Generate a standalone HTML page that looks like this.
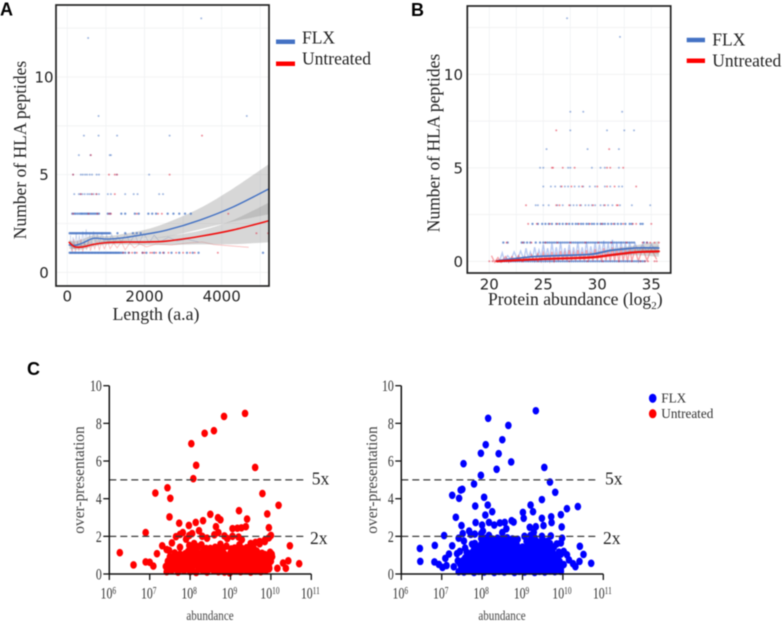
<!DOCTYPE html>
<html lang="en">
<head>
<meta charset="utf-8">
<title>HLA peptides figure</title>
<style>
html,body{margin:0;padding:0;background:#fff;width:784px;height:623px;overflow:hidden}
svg{display:block;filter:blur(.45px)}
.serif{font-family:"Liberation Serif",serif}
.sans{font-family:"DejaVu Sans","Liberation Sans",sans-serif}
.bold{font-family:"Liberation Sans",sans-serif;font-weight:700}
</style>
</head>
<body>
<svg id="figure" width="784" height="623" viewBox="0 0 784 623" xmlns="http://www.w3.org/2000/svg">
<defs>
<clipPath id="clipA"><rect x="56" y="5" width="213" height="281"/></clipPath>
<clipPath id="clipB"><rect x="467" y="6" width="204" height="267"/></clipPath>
</defs>

<text class="bold" x="0" y="15.5" font-size="18" fill="#000">A</text>
<text class="bold" x="411" y="16" font-size="18" fill="#000">B</text>
<text class="bold" x="27" y="375" font-size="18" fill="#000">C</text>

<g id="panelA">
<g id="gridA"></g>
<g id="plotA" clip-path="url(#clipA)"></g>
<rect x="56" y="5" width="213" height="281" fill="none" stroke="#222" stroke-width="1.7"/>
<g id="ticksA"></g>
<text class="serif" x="26" y="150" transform="rotate(-90 26 150)" text-anchor="middle" font-size="17.5" fill="#222">Number of HLA peptides</text>
<text class="serif" x="156" y="320" text-anchor="middle" font-size="17.8" fill="#222">Length (a.a)</text>
<g>
<line x1="276" x2="295" y1="41.7" y2="41.7" stroke="#4472c4" stroke-width="4.5"/>
<text class="serif" x="302" y="43.5" font-size="17.5" fill="#222">FLX</text>
<line x1="276" x2="295" y1="63.7" y2="63.7" stroke="#f00" stroke-width="4.5"/>
<text class="serif" x="302" y="64.7" font-size="17.5" fill="#222">Untreated</text>
</g>
</g>

<g id="panelB">
<g id="gridB"></g>
<g id="plotB" clip-path="url(#clipB)"></g>
<rect x="467.3" y="6" width="203.4" height="267" fill="none" stroke="#222" stroke-width="1.7"/>
<g id="ticksB"></g>
<text class="serif" x="439.3" y="143" transform="rotate(-90 439.3 143)" text-anchor="middle" font-size="17.5" fill="#222">Number of HLA peptides</text>
<text class="serif" x="488" y="305" font-size="17.6" fill="#222">Protein abundance (log<tspan dy="4" font-size="11">2</tspan><tspan dy="-4">)</tspan></text>
<g>
<line x1="686.7" x2="705" y1="40" y2="40" stroke="#4472c4" stroke-width="4.5"/>
<text class="serif" x="712.3" y="45.7" font-size="17.5" fill="#222">FLX</text>
<line x1="686.7" x2="705" y1="60.7" y2="60.7" stroke="#f00" stroke-width="4.5"/>
<text class="serif" x="712.3" y="66.7" font-size="17.5" fill="#222">Untreated</text>
</g>
</g>

<g id="panelC1"></g>
<g id="panelC2"></g>

<g>
<ellipse cx="652.7" cy="398.3" rx="3.8" ry="4.6" fill="#0000ff"/>
<text class="serif" x="661.3" y="402.7" font-size="13.2" fill="#333">FLX</text>
<ellipse cx="652.7" cy="413.7" rx="3.8" ry="4.6" fill="#ff0000"/>
<text class="serif" x="661.3" y="418" font-size="13.2" fill="#333">Untreated</text>
</g>
</svg>

<script>
/* ---------- Panel A data ---------- */
const aXTicks = [0, 2000, 4000];
const aYTicks = [0, 5, 10];
const aXGrid = [0, 1000, 2000, 3000, 4000, 5000];
const aYGrid = [0, 2.5, 5, 7.5, 10, 12.5];
const aCurveX = [50, 200, 400, 680, 1030, 1500, 2000, 2580, 3430, 4300, 5300];
const aFlxLine = [1.4, 1.38, 1.5, 1.74, 1.7, 1.78, 1.94, 2.16, 2.67, 3.35, 4.35];
const aFlxHigh = [1.6, 1.6, 1.7, 1.9, 1.85, 1.98, 2.17, 2.54, 3.28, 4.3, 5.65];
const aFlxLow = [1.2, 1.2, 1.3, 1.55, 1.55, 1.62, 1.72, 1.82, 2.2, 2.6, 3.0];
const aRedLine = [1.53, 1.3, 1.3, 1.43, 1.52, 1.55, 1.55, 1.6, 1.84, 2.17, 2.68];
const aRedHigh = [1.68, 1.42, 1.42, 1.53, 1.62, 1.66, 1.7, 1.85, 2.13, 2.68, 3.65];
const aRedLow = [1.38, 1.18, 1.18, 1.33, 1.42, 1.42, 1.4, 1.4, 1.43, 1.44, 1.55];
const aFlxCounts = [1, 2, 3, 4, 5, 6, 7, 8, 12, 13];
const aFlxLengths = [
 [60,85,110,135,165,190,215,240,270,295,320,350,375,400,425,455,480,505,535,560,585,615,640,665,695,720,745,775,800,825,855,880,905,935,960,985,1015,1040,1065,1095,1120,1145,1175,1200,1230,1255,1280,1310,1335,1365,1400,1440,1500,1590,1750,1950,2050,2250,2400,2500,2700,2900,3100,3250,3400,5070],
 [60,90,120,150,180,210,240,270,300,330,360,390,420,450,480,510,540,570,600,630,660,690,720,750,780,810,840,870,900,930,960,990,1020,1050,1080,1110,1300,1500,1700,1800,1900],
 [130,180,220,270,320,360,390,430,470,510,540,580,620,660,700,740,780,820,1050,1110,1400,1500,1750,1850,2100,2200,2300,2600,2750,2900,3050,3200],
 [180,300,340,390,450,520,570,620,680,760,820,1050,1130,1500,1720,1820,2380,2480],
 [150,350,400,460,510,580,640,760,820,1280,2120],
 [300,600,1100,1130],
 [430,810,1290,2650],
 [810,4650],
 [540],
 [3470]
];
const aRedCounts = [1, 2, 3, 4, 5, 6, 7];
const aRedLengths = [
 [1450,1600,1680,1800,1950,2000,2150,2200,2300,2480,2620,2820,3000,3180,3300,3900],
 [4900,5200],
 [150,550,780,1080,1130,1800,2350,2450,4170],
 [350,640,750,1230],
 [150,1080,1230,1290,2650],
 [610],
 [3490]
];
const aRawFlx = [[80,1.9],[110,1.1],[150,1.8],[190,1.2],[230,2.0],[270,1.3],[310,1.9],[350,1.25],[400,2.1],[440,1.35],[490,2.2],[530,1.4],[580,2.0],[620,1.4],[680,2.1],[720,1.5],[780,1.95],[830,1.45],[900,2.05],[950,1.5],[1020,1.9],[1080,1.5],[1150,1.95],[1220,1.5],[1300,1.85],[1400,1.55],[1520,2.0],[1620,1.5],[1750,1.95],[1850,1.45],[1980,2.0],[2120,1.5],[2250,1.9],[2400,1.55],[2620,1.8],[2850,1.6],[3100,1.7],[3400,1.55]];
const aRawRed = [[90,1.6],[130,1.0],[170,1.7],[210,1.05],[260,1.6],[300,1.1],[350,1.7],[400,1.05],[450,1.55],[500,1.15],[560,1.65],[600,1.1],[660,1.5],[710,1.2],[770,1.6],[830,1.15],[890,1.55],[960,1.2],[1040,1.6],[1110,1.2],[1200,1.5],[1290,1.25],[1400,1.55],[1500,1.15],[1620,1.5],[1740,1.25],[1880,1.45],[2050,1.3],[2300,1.45],[2700,1.4],[3100,1.5],[3500,1.55],[3800,1.42],[4250,1.35],[4700,1.28]];

/* ---------- Panel B data ---------- */
const bXTicks = [20, 25, 30, 35];
const bYTicks = [0, 5, 10];
const bXGrid = [20, 22.5, 25, 27.5, 30, 32.5, 35];
const bYGrid = [0, 2.5, 5, 7.5, 10, 12.5];
const bCurveX = [20.7, 24.1, 27.2, 29.5, 31.2, 32.5, 33.4, 34.5, 35.7];
const bFlxLine = [0.03, 0.25, 0.32, 0.38, 0.58, 0.66, 0.71, 0.72, 0.71];
const bFlxHigh = [0.08, 0.3, 0.37, 0.44, 0.66, 0.76, 0.84, 0.95, 1.08];
const bFlxLow = [-0.02, 0.2, 0.27, 0.32, 0.5, 0.56, 0.58, 0.5, 0.36];
const bRedLine = [0, 0.1, 0.16, 0.21, 0.33, 0.42, 0.48, 0.51, 0.53];
const bRedHigh = [0.05, 0.15, 0.21, 0.27, 0.4, 0.52, 0.62, 0.72, 0.85];
const bRedLow = [-0.05, 0.05, 0.11, 0.15, 0.26, 0.32, 0.33, 0.3, 0.24];
const bFlxCounts = [0, 1, 2, 3, 4, 5, 6, 7, 8, 12, 13];
const bFlxAbundance = [
 [20.8,21,21.2,21.4,21.6,21.8,22,22.2,22.4,22.6,22.8,23,23.2,23.4,23.6,23.8,24,24.2,24.4,24.6,24.8,25,25.2,25.4,25.6,25.8,26,26.2,26.4,26.6,26.8,27,27.2,27.4,27.6,27.8,28,28.2,28.4,28.6,28.8,29,29.2,29.4,29.6,29.8,30,30.2,30.4,30.6,30.8,31,31.2,31.4,31.6,31.8,32,32.2,32.4,32.6,32.8,33,33.2,33.4,33.6,33.8,34,34.2,34.4],
 [21.3,21.7,23,23.2,23.5,23.8,24.3,24.7,25,25.2,25.4,25.6,25.8,26,26.2,26.4,26.6,26.8,27,27.2,27.4,27.6,27.8,28,28.2,28.4,28.6,28.8,29,29.2,29.4,29.6,29.8,30,30.2,30.4,30.6,30.8,31,31.2,31.4,31.6,31.8,32,32.2,32.4,32.6,32.8,33,33.2,33.4,34.3,34.6],
 [24,24.5,24.9,25.2,25.5,25.8,26.2,26.5,26.8,27.1,27.4,27.7,28,28.2,28.5,28.7,29,29.2,29.5,29.7,30,30.3,30.5,30.7,31,31.3,31.6,31.9,32.2,32.6,33,33.2,34,34.2],
 [24.3,24.5,25,25.5,26.3,26.8,27.5,27.8,28.1,28.5,28.9,29.2,29.5,29.8,30.3,30.6,31,31.4,32.1,33.2,34.9],
 [25,25.7,26.1,26.6,27,27.3,27.9,28.3,28.7,29.3,29.8,30.7,31.2,32,32.3],
 [24.7,25,27.3,27.5,29.5,30.3,30.7,32],
 [25.3,29.1,32],
 [27.5,30.9,32.5,33.4],
 [27.5,28.7,32.3],
 [32.1],
 [27.2]
];
const bRedCounts = [0, 1, 2, 3, 4, 5, 6, 7];
const bRedAbundance = [
 [20,20.3,20.6,21.1,22,23.1,24.5,26,27.4,29.1,30.5,32,33.2,34,34.4,34.7,35.3,35.5],
 [21.6,23.1,23.9,25.2,26.3,27.5,28.9,30.1,31.3,32.7,34.2,34.6,34.9,35.3,35.7],
 [23.6,24.4,25.6,26.3,27.2,28.3,29.3,30.4,31.5,32.4,33.3,33.6,35],
 [23.4,26.2,26.5,27.4,28.4,29.6,30.7,31.8,31.9],
 [26.7,27.6,28.6,30,30.9,31.6,33.6],
 [25.8,25.9,26.8,27.9,30.9,31.2,32.4],
 [31.1],
 [26.2]
];
const bRawFlx = [[21,.1],[21.2,.45],[21.4,.05],[21.7,.3],[22,.1],[22.3,.5],[22.6,.1],[22.9,.55],[23.2,.1],[23.4,.7],[23.6,.15],[23.8,.5],[24,.15],[24.2,.75],[24.4,.2],[24.6,.6],[24.8,.2],[25,.9],[25.2,.2],[25.4,.7],[25.6,.15],[25.8,.95],[26,.2],[26.2,.75],[26.4,.2],[26.6,1],[26.8,.2],[27,.7],[27.2,.2],[27.4,.9],[27.6,.15],[27.8,.75],[28,.25],[28.2,1],[28.4,.2],[28.6,.75],[28.8,.2],[29,1.05],[29.2,.2],[29.4,.8],[29.6,.25],[29.8,1],[30,.2],[30.2,.9],[30.4,.3],[30.6,1.1],[30.8,.25],[31,.95],[31.2,.35],[31.4,1.15],[31.6,.3],[31.8,1],[32,.35],[32.2,1.05],[32.4,.4],[32.6,.95],[32.8,.4],[33,1],[33.2,.45],[33.5,.95],[33.8,.5],[34.2,.9],[34.6,.5],[35,.9],[35.5,.5]];
const bRawRed = [[20.2,.3],[20.5,-.05],[20.8,.2],[21.1,-.05],[21.5,.25],[21.8,-.05],[22.1,.25],[22.4,0],[22.7,.3],[23,0],[23.3,.25],[23.6,0],[23.9,.35],[24.2,0],[24.5,.4],[24.8,0],[25,.45],[25.2,.02],[25.4,.35],[25.6,0],[25.8,.5],[26,.02],[26.2,.4],[26.4,0],[26.6,.55],[26.8,.02],[27,.45],[27.2,0],[27.4,.6],[27.6,.02],[27.8,.45],[28,0],[28.2,.6],[28.4,.02],[28.6,.5],[28.8,0],[29,.6],[29.2,.02],[29.4,.5],[29.6,0],[29.8,.65],[30,.02],[30.2,.55],[30.4,-.03],[30.6,.7],[30.8,.02],[31,.6],[31.2,-.03],[31.4,.75],[31.6,0],[31.8,.65],[32,-.05],[32.2,.75],[32.4,0],[32.6,.65],[32.8,-.05],[33,.7],[33.2,.02],[33.5,.65],[33.8,0],[34.2,.7],[34.6,.05],[35,.65],[35.5,.1]];

/* ---------- Panel C data: [log10 abundance, over-presentation] ---------- */
const cXExponents = [6, 7, 8, 9, 10, 11];
const cYTicks = [0, 2, 4, 6, 8, 10];
const cThresholds = [5, 2];
const cThresholdLabels = ['5x', '2x'];
const untreatedPoints = [
 [6.26,1.13],[6.6,.48],[6.9,.64],[6.9,2.2],[7,.62],[7.09,.42],[7.14,4.3],[7.18,1.08],[7.31,1.5],[7.44,4.58],[7.51,4.02],[7.49,3.03],[7.73,2.7],[7.97,2.58],[8.03,6.92],[8.08,5.06],[8.15,5.77],[8.14,2.74],[8.32,2.83],[8.36,7.47],[8.59,7.61],[8.84,8.37],[9.36,8.53],[9.61,5.66],[9.79,4.27],[10.19,3.65],[9.91,3.19],[9.95,2.46],[9.21,3.36],[9.41,2.92],[8.5,3.17],[8.69,2.99],[8.75,2.88],[8.64,2.51],[9.38,2.51],[9.05,2.41],[9.17,2.43],[9.27,2.45],[10.47,1.5],[10.7,.55],[10.43,.7],[10.3,.58],[10.37,.3],[10.16,.3],[9.96,.3],
 [7.42,.12],[7.55,.2],[7.7,.1],[7.85,.18],[8,.12],[8.15,.08],[8.3,.2],[8.42,.1],[8.58,.18],[8.7,.12],[8.85,.1],[8.98,.06],[9.12,.18],[9.25,.12],[9.38,.2],[9.5,.1],[9.62,.16],[9.75,.12],[9.88,.2],
 [7.4,.4],[7.52,.45],[7.65,.35],[7.8,.42],[7.92,.38],[8.05,.46],[8.2,.36],[8.35,.42],[8.48,.4],[8.62,.46],[8.75,.38],[8.9,.44],[9.02,.36],[9.15,.42],[9.3,.46],[9.42,.38],[9.55,.44],[9.7,.4],[9.82,.36],[9.95,.44],
 [7.45,.68],[7.6,.62],[7.72,.7],[7.88,.66],[8,.72],[8.12,.64],[8.25,.7],[8.4,.62],[8.55,.68],[8.68,.72],[8.82,.64],[8.95,.7],[9.08,.66],[9.2,.72],[9.35,.62],[9.48,.7],[9.6,.66],[9.72,.72],[9.85,.62],[10,.68],
 [7.5,.92],[7.68,.9],[7.82,.96],[7.95,.88],[8.1,.94],[8.22,.9],[8.38,.98],[8.5,.88],[8.65,.94],[8.8,.9],[8.92,.86],[9.05,.96],[9.18,.92],[9.3,.98],[9.45,.88],[9.58,.94],[9.7,.9],[9.82,.96],[9.95,.88],[10.03,.92],
 [7.48,1.25],[7.42,1.3],[7.62,1.12],[7.95,1.2],[8.05,1.1],[8.15,1.25],[8.3,1.15],[8.48,1.22],[8.6,1.1],[8.78,1.18],[9,1.12],[9.12,1.2],[9.25,1.14],[9.38,1.26],[9.5,1.16],[9.65,1.22],[9.78,1.1],[9.98,1.15],[10.02,1.05],
 [7.55,1.65],[7.75,1.42],[7.98,1.52],[8.1,1.62],[8.2,1.45],[8.28,1.55],[8.4,1.35],[8.62,1.42],[8.75,1.58],[8.9,1.48],[9.1,1.38],[9.22,1.55],[9.4,1.4],[9.5,1.62],[9.62,1.68],[9.72,1.6],[9.85,1.72],
 [7.65,1.98],[7.75,2.1],[7.82,2.2],[7.9,1.85],[7.98,2.05],[8.05,2.15],[8.22,2.3],[8.3,2],[8.42,1.9],[8.6,2.08],[8.7,2.2],[8.85,2.02],[8.92,1.88],[9.05,2.0],[9.2,1.96],[9.28,1.82],[9.72,1.72],[9.85,1.8],[10,2.05],[9.95,1.92],
 [7.48,.27],[7.6,.28],[7.75,.25],[7.9,.28],[8.05,.26],[8.22,.27],[8.36,.24],[8.5,.28],[8.65,.26],[8.78,.27],[8.92,.25],[9.05,.27],[9.18,.28],[9.32,.25],[9.45,.27],[9.58,.26],[9.7,.28],[9.82,.25],[9.95,.27],
 [7.45,.55],[7.58,.53],[7.7,.56],[7.85,.54],[7.98,.55],[8.1,.53],[8.28,.56],[8.42,.54],[8.55,.55],[8.7,.53],[8.85,.56],[9,.54],[9.12,.55],[9.25,.53],[9.38,.56],[9.52,.54],[9.65,.55],[9.78,.53],[9.9,.56],
 [7.55,.8],[7.66,.78],[7.78,.82],[7.92,.79],[8.05,.81],[8.18,.78],[8.32,.82],[8.45,.79],[8.6,.81],[8.75,.78],[8.88,.82],[9.02,.79],[9.15,.81],[9.28,.78],[9.4,.82],[9.52,.79],[9.65,.81],[9.78,.78],[9.9,.82],
 [7.75,1.05],[7.88,1.08],[8.02,1.03],[8.2,1.06],[8.35,1.04],[8.55,1.07],[8.7,1.03],[8.85,1.06],[9.08,1.04],[9.2,1.07],[9.32,1.03],[9.45,1.06],[9.58,1.04],[9.7,1.07],[9.85,1.03],
 [8.02,1.35],[8.15,1.38],[8.35,1.33],[8.5,1.36],[8.68,1.34],[8.82,1.37],[9.02,1.33],[9.15,1.36],[9.3,1.34],[9.45,1.37],[9.58,1.33]
];
const flxPoints = [
 [6.46,1.36],[6.47,.67],[6.83,1.52],[6.82,.64],[6.93,.51],[7.06,2.04],[7.26,1.5],[7.18,1.06],[7.09,.83],[7.26,4.18],[7.43,4.02],[7.47,4.46],[7.51,4.5],[7.54,5.86],[7.35,3.01],[7.49,2.57],[7.8,4.78],[7.97,5.24],[7.97,6.41],[8.09,6.87],[8.15,8.27],[8.41,6.39],[8.36,5.56],[8.5,7.13],[8.65,7.89],[8.72,5.95],[9.33,8.67],[9.54,5.66],[9.68,4.88],[9.81,4.34],[9.48,3.95],[10.1,3.47],[10.37,3.58],[9.95,3.15],[10.42,1.47],[10.51,1.04],[10.7,.57],[10.41,.67],[10.31,.39],[7.83,3.61],[8.05,4.07],[8.14,3.66],[8.08,3.13],[8.25,3.31],[7.84,2.73],[8,2.6],[8.17,2.74],[8.3,2.6],[8.44,2.71],[8.56,2.74],[8.73,2.83],[9.01,3.27],[9.03,2.96],[9.2,3.66],[9.26,3.31],[9.48,2.96],[9.71,3.04],[9.72,2.73],[9.97,2.5],[9.52,2.57],[9.18,2.48],[9.33,2.51],[8.78,2.76],[8.6,2.4],[8.5,2.2],
 [7.02,.35],[7.12,.45],[7.3,.38],[7.4,.7],[7.38,1.08],[7.45,1.2],[7.5,.3],[7.52,2.15],[7.55,1.75],[7.42,1.9],[7.58,1.38],[7.62,.85],[7.68,2.28],[7.72,2.1],[7.75,1.58],[7.82,2.12],[7.98,2.15],[8.02,2.28],[8.17,2.05],[9.05,2.0],[9.28,2.22],[9.2,2.05],[9.48,2.0],[9.7,2.02],[9.98,1.9],[9.95,1.65],[10.02,1.2],[10.1,1.02],[10.15,.75],[10.25,.55],[9.95,.28],[10.02,.5],
 [7.42,.12],[7.55,.1],[7.68,.18],[7.8,.08],[7.92,.14],[8.05,.1],[8.17,.16],[8.3,.08],[8.42,.14],[8.55,.1],[8.68,.16],[8.8,.08],[8.92,.14],[9.05,.1],[9.18,.16],[9.3,.08],[9.42,.14],[9.55,.1],[9.68,.16],[9.8,.12],[9.95,.14],
 [7.48,.42],[7.6,.38],[7.72,.45],[7.85,.4],[7.98,.44],[8.1,.36],[8.22,.42],[8.35,.4],[8.48,.44],[8.6,.36],[8.72,.42],[8.85,.4],[8.98,.44],[9.1,.36],[9.22,.42],[9.35,.4],[9.48,.44],[9.6,.36],[9.72,.42],[9.85,.4],
 [7.52,.7],[7.65,.66],[7.78,.72],[7.9,.68],[8.02,.72],[8.15,.66],[8.28,.7],[8.4,.68],[8.52,.72],[8.65,.66],[8.78,.7],[8.9,.68],[9.02,.72],[9.15,.66],[9.28,.7],[9.4,.68],[9.52,.72],[9.65,.66],[9.78,.7],[9.92,.66],
 [7.68,1],[7.82,.96],[7.95,1.02],[8.08,.98],[8.2,1.02],[8.32,.96],[8.45,1],[8.58,.98],[8.7,1.02],[8.82,.96],[8.95,1],[9.08,.98],[9.2,1.02],[9.32,.96],[9.45,1],[9.58,.98],[9.7,1.02],[9.82,.96],[9.95,1.05],
 [7.8,1.3],[7.95,1.26],[8.05,1.32],[8.18,1.28],[8.3,1.32],[8.42,1.26],[8.55,1.3],[8.68,1.28],[8.8,1.32],[8.92,1.26],[9.05,1.3],[9.18,1.28],[9.3,1.32],[9.42,1.26],[9.55,1.3],[9.68,1.28],
 [7.82,1.62],[7.98,1.58],[8.1,1.62],[8.22,1.56],[8.35,1.6],[8.48,1.58],[8.6,1.62],[8.72,1.56],[8.85,1.6],[9.15,1.62],[9.28,1.56],[9.42,1.6],[9.55,1.58],[9.68,1.62],[9.85,1.6],
 [7.98,1.88],[8.1,1.9],[8.25,1.86],[8.38,1.9],[8.5,1.88],[8.62,1.92],[8.75,1.86],[8.88,1.84],[9.22,1.88],[9.3,1.92],[9.5,1.82],
 [7.48,.27],[7.6,.28],[7.72,.25],[7.85,.27],[7.98,.28],[8.1,.25],[8.22,.27],[8.35,.28],[8.48,.25],[8.6,.27],[8.72,.28],[8.85,.25],[8.98,.27],[9.1,.28],[9.22,.25],[9.35,.27],[9.48,.28],[9.6,.25],[9.72,.27],[9.85,.28],
 [7.45,.56],[7.58,.54],[7.7,.57],[7.82,.55],[7.95,.56],[8.08,.54],[8.2,.57],[8.32,.55],[8.45,.56],[8.58,.54],[8.7,.57],[8.82,.55],[8.95,.56],[9.08,.54],[9.2,.57],[9.32,.55],[9.45,.56],[9.58,.54],[9.7,.57],[9.85,.55],
 [7.58,.85],[7.72,.83],[7.85,.86],[7.98,.84],[8.12,.85],[8.25,.83],[8.38,.86],[8.5,.84],[8.62,.85],[8.75,.83],[8.88,.86],[9,.84],[9.12,.85],[9.25,.83],[9.38,.86],[9.5,.84],[9.62,.85],[9.75,.83],[9.88,.86],
 [7.62,1.15],[7.75,1.13],[7.88,1.16],[8,1.14],[8.12,1.15],[8.25,1.13],[8.38,1.16],[8.5,1.14],[8.62,1.15],[8.75,1.13],[8.88,1.16],[9,1.14],[9.12,1.15],[9.25,1.13],[9.38,1.16],[9.5,1.14],[9.62,1.15],[9.75,1.13],[9.9,1.16],
 [7.88,1.45],[8.02,1.43],[8.12,1.46],[8.25,1.44],[8.38,1.45],[8.5,1.43],[8.62,1.46],[8.75,1.44],[8.88,1.45],[9,1.43],[9.12,1.46],[9.25,1.44],[9.38,1.45],[9.5,1.43],[9.62,1.46],[9.78,1.44],
 [8.05,1.75],[8.15,1.73],[8.28,1.76],[8.42,1.74],[8.55,1.75],[8.68,1.73],[8.8,1.76],[9.1,1.74],[9.22,1.75],[9.35,1.73],[9.48,1.76],[9.62,1.74]
];

/* ---------- Axis functions ---------- */
const axA = { x: v => 67.3 + v * 0.0386, y: v => 272.3 - v * 19.53 };
const axB = { x: v => 489.3 + (v - 20) * 10.8, y: v => 261.3 - v * 18.7 };
const cY = v => 574 - v * 18.83;
const axC1 = { x: v => 109.3 + (v - 6) * 40.4, y: cY };
const axC2 = { x: v => 401.3 + (v - 6) * 40.4, y: cY };

const NS = 'http://www.w3.org/2000/svg';
function mk(tag, attrs, parent) {
  const el = document.createElementNS(NS, tag);
  for (const k in attrs) el.setAttribute(k, attrs[k]);
  parent.appendChild(el);
  return el;
}
function smooth(pts) {
  let d = 'M' + pts[0][0] + ' ' + pts[0][1];
  for (let i = 0; i < pts.length - 1; i++) {
    const p0 = pts[Math.max(i - 1, 0)], p1 = pts[i], p2 = pts[i + 1], p3 = pts[Math.min(i + 2, pts.length - 1)];
    const c1x = p1[0] + (p2[0] - p0[0]) / 6, c1y = p1[1] + (p2[1] - p0[1]) / 6;
    const c2x = p2[0] - (p3[0] - p1[0]) / 6, c2y = p2[1] - (p3[1] - p1[1]) / 6;
    d += 'C' + c1x + ' ' + c1y + ' ' + c2x + ' ' + c2y + ' ' + p2[0] + ' ' + p2[1];
  }
  return d;
}
function zip(xs, ys, ax) { return xs.map((x, i) => [ax.x(x), ax.y(ys[i])]); }

function drawGrid(g, ax, xs, ys, x0, x1, y0, y1) {
  xs.forEach(v => {
    const l = mk('line', { x1: ax.x(v), x2: ax.x(v), y1: y0, y2: y1, stroke: '#eff1f3', 'stroke-width': 0.8 }, g);
    
    
  });
  ys.forEach(v => {
    const l = mk('line', { x1: x0, x2: x1, y1: ax.y(v), y2: ax.y(v), stroke: '#f0f1f2', 'stroke-width': 0.8 }, g);
    
    
  });
}
function drawRibbon(g, xs, hi, lo, ax, name) {
  const top = zip(xs, hi, ax), bot = zip(xs, lo, ax).reverse();
  const d = smooth(top) + 'L' + bot[0][0] + ' ' + bot[0][1] + smooth(bot).replace(/^M[^C]*/, '') + 'Z';
  const p = mk('path', { d: d, fill: '#8f8f8f', 'fill-opacity': 0.36 }, g);
  
  
}
function drawCurve(g, xs, ys, ax, color, width, name) {
  const p = mk('path', { d: smooth(zip(xs, ys, ax)), fill: 'none', stroke: color, 'stroke-width': width, 'stroke-linecap': 'round' }, g);
  
  
}
function drawRaw(g, pairs, ax, color, name, width) {
  const p = mk('polyline', { points: pairs.map(q => ax.x(q[0]) + ',' + ax.y(q[1])).join(' '), fill: 'none', stroke: color, 'stroke-width': width }, g);
  
  
}
function drawRows(g, counts, rows, ax, color, name) {
  counts.forEach((c, i) => {
    const dense = rows[i].length > 30;
    rows[i].forEach(x => {
      const m = mk('circle', { cx: ax.x(x), cy: ax.y(c), r: dense ? 1.2 : 1, fill: color, 'fill-opacity': dense ? 0.72 : 0.5 }, g);
      
      
    });
  });
}
function drawTicksAB(g, ax, xt, yt, xBase, yAnchorX, anchor) {
  xt.forEach(v => {
    const t = mk('text', { x: ax.x(v), y: xBase, 'text-anchor': 'middle', 'font-size': 15, fill: '#222', class: 'sans' }, g);
    t.textContent = v;
    
    
  });
  yt.forEach(v => {
    const t = mk('text', { x: yAnchorX, y: ax.y(v) + 5.5, 'text-anchor': anchor, 'font-size': 15, fill: '#222', class: 'sans' }, g);
    t.textContent = v;
    
    
  });
}

/* ---------- Panel A ---------- */
(function () {
  const g = document.getElementById('plotA');
  drawGrid(document.getElementById('gridA'), axA, aXGrid, aYGrid, 56, 269, 5, 286);
  drawRaw(g, aRawFlx, axA, 'rgba(110,140,210,.4)', 'flx-raw-trace', 0.8);
  drawRaw(g, aRawRed, axA, 'rgba(240,110,110,.45)', 'untreated-raw-trace', 0.8);
  drawRibbon(g, aCurveX, aFlxHigh, aFlxLow, axA, 'flx-confidence-band');
  drawRibbon(g, aCurveX, aRedHigh, aRedLow, axA, 'untreated-confidence-band');
  drawRows(g, aFlxCounts, aFlxLengths, axA, '#4472c4', 'flx-point');
  drawRows(g, aRedCounts, aRedLengths, axA, '#e0203a', 'untreated-point');
  drawCurve(g, aCurveX, aFlxLine, axA, '#4472c4', 1.4, 'flx-trend-line');
  drawCurve(g, aCurveX, aRedLine, axA, '#f01010', 1.6, 'untreated-trend-line');
  drawTicksAB(document.getElementById('ticksA'), axA, aXTicks, aYTicks, 301.7, 44, 'middle');
})();

/* ---------- Panel B ---------- */
(function () {
  const g = document.getElementById('plotB');
  drawGrid(document.getElementById('gridB'), axB, bXGrid, bYGrid, 467, 671, 6, 273);
  drawRaw(g, bRawFlx, axB, 'rgba(90,130,225,.42)', 'flx-raw-trace', 1.4);
  drawRaw(g, bRawRed, axB, 'rgba(240,70,80,.48)', 'untreated-raw-trace', 1.4);
  drawRibbon(g, bCurveX, bFlxHigh, bFlxLow, axB, 'flx-confidence-band');
  drawRibbon(g, bCurveX, bRedHigh, bRedLow, axB, 'untreated-confidence-band');
  drawRows(g, bFlxCounts, bFlxAbundance, axB, '#4472c4', 'flx-point');
  drawRows(g, bRedCounts, bRedAbundance, axB, '#e0203a', 'untreated-point');
  drawCurve(g, bCurveX, bFlxLine, axB, '#4472c4', 1.6, 'flx-trend-line');
  drawCurve(g, bCurveX, bRedLine, axB, '#f01010', 2.2, 'untreated-trend-line');
  drawTicksAB(document.getElementById('ticksB'), axB, bXTicks, bYTicks, 289.3, 463, 'end');
})();

/* ---------- Panel C ---------- */
function condensed(g, x, y, str, size, anchor, fill, sx, name) {
  const t = mk('text', { transform: 'translate(' + x + ' ' + y + ') scale(' + sx + ' 1)', 'text-anchor': anchor, 'font-size': size, fill: fill, class: 'serif' }, g);
  t.textContent = str;
  
  
  return t;
}
function drawScatter(g, ax, points, color, dashEnd, labelXs, titleX, yTitleOffset) {
  const marks = mk('g', {}, g);
  
  
  points.forEach(p => {
    const e = mk('ellipse', { cx: ax.x(p[0]), cy: ax.y(p[1]), rx: 3.3, ry: 3.8, fill: color }, marks);
    
    
  });
  const x0 = ax.x(6), x1 = ax.x(11);
  cThresholds.forEach((v, i) => {
    const l = mk('line', { x1: x0, x2: dashEnd, y1: ax.y(v), y2: ax.y(v), stroke: '#3a3a3a', 'stroke-width': 1.2, 'stroke-dasharray': '7 4' }, g);
    
    
    const t = mk('text', { x: labelXs[i], y: ax.y(v) + (i === 0 ? 4.5 : 7.5), 'font-size': 17.5, fill: '#222', class: 'serif' }, g);
    t.textContent = cThresholdLabels[i];
    
    
  });
  const xl = mk('line', { x1: x0 - 0.7, x2: x1, y1: ax.y(0), y2: ax.y(0), stroke: '#111', 'stroke-width': 1.5 }, g);
  
  
  const yl = mk('line', { x1: x0, x2: x0, y1: ax.y(10), y2: ax.y(0), stroke: '#111', 'stroke-width': 1.5 }, g);
  
  
  cYTicks.forEach(v => {
    const tk = mk('line', { x1: x0 - 6, x2: x0, y1: ax.y(v), y2: ax.y(v), stroke: '#111', 'stroke-width': 1.3 }, g);
    
    
    condensed(g, x0 - 7.5, ax.y(v) + 5.5, String(v), 16, 'end', '#333', 0.74, 'y-tick-label');
  });
  cXExponents.forEach(v => {
    const tk = mk('line', { x1: ax.x(v), x2: ax.x(v), y1: ax.y(0), y2: ax.y(0) + 6, stroke: '#111', 'stroke-width': 1.3 }, g);
    
    
    const t = condensed(g, ax.x(v) - 1, 598.5, '10', 16, 'middle', '#333', 0.74, 'x-tick-label');
    const s = mk('tspan', { dy: -4.5, 'font-size': 10 }, t);
    s.textContent = v;
  });
  condensed(g, titleX, 620, 'abundance', 14, 'middle', '#444', 0.79, 'x-axis-title');
  const yt = mk('text', { transform: 'translate(' + (x0 - yTitleOffset) + ' 480) rotate(-90)', 'text-anchor': 'middle', 'font-size': 15.4, fill: '#444', class: 'serif' }, g);
  yt.textContent = 'over-presentation';
  
  
}
drawScatter(document.getElementById('panelC1'), axC1, untreatedPoints, '#ff0000', 305, [311.7, 310], 210, 25.5);
drawScatter(document.getElementById('panelC2'), axC2, flxPoints, '#0000ff', 596.7, [605, 603], 502, 24.5);
</script>
</body>
</html>
